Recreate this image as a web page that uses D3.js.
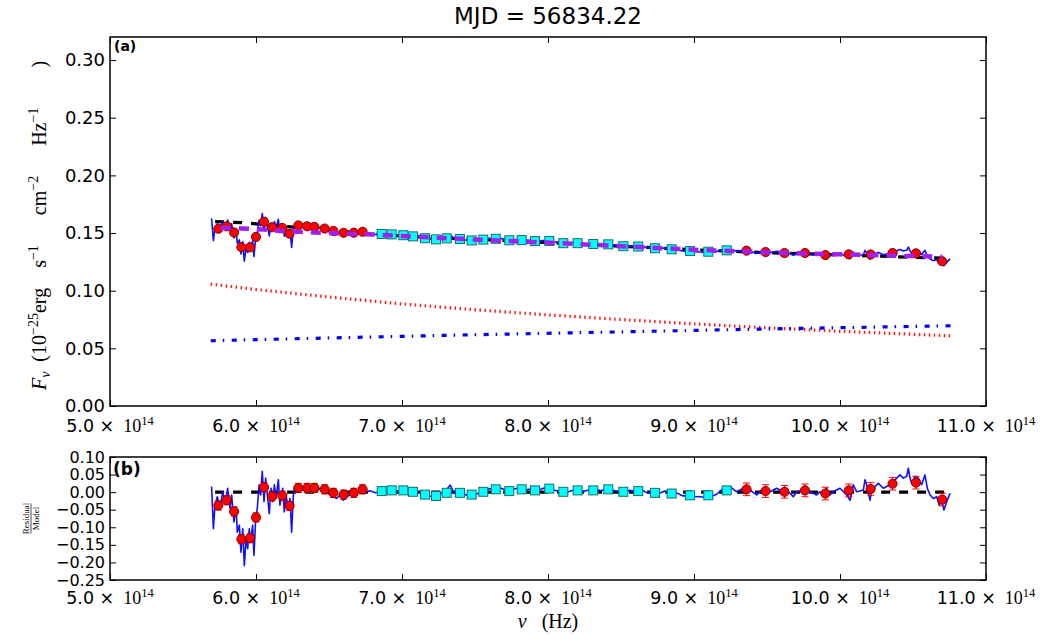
<!DOCTYPE html>
<html><head><meta charset="utf-8">
<script src="https://cdn.jsdelivr.net/npm/d3@7"></script>
<style>body{margin:0;background:#fff} svg{display:block} text{white-space:pre}</style>
</head><body><svg id="c" width="1047" height="635"></svg>
<script>
// ---------------- data (frequencies in units of 1e14 Hz) ----------------
const titleText = "MJD = 56834.22";
const xTicks = [5, 6, 7, 8, 9, 10, 11];
const xTickLabels = ["5.0", "6.0", "7.0", "8.0", "9.0", "10.0", "11.0"];
const xTickExp = "14";
const yTicksA = [0, 0.05, 0.10, 0.15, 0.20, 0.25, 0.30];
const yTicksB = [0.10, 0.05, 0.00, -0.05, -0.10, -0.15, -0.20, -0.25];

// observed spectrum (blue line): flux (panel a) and residual/model (panel b)
const specNu = [5.696,5.708,5.719,5.735,5.753,5.772,5.788,5.806,5.822,5.833,
 5.849,5.863,5.872,5.886,5.897,5.909,5.920,5.932,5.943,5.954,
 5.963,5.977,5.986,5.998,6.009,6.021,6.032,6.043,6.055,6.066,
 6.080,6.091,6.103,6.114,6.126,6.137,6.153,6.164,6.183,6.194,
 6.205,6.221,6.233,6.244,6.256,6.267,6.279,6.301,6.324,6.347,
 6.370,6.393,6.416,6.438,6.461,6.484,6.507,6.530,6.553,6.575,
 6.598,6.621,6.644,6.667,6.689,6.712,6.735,6.758,
 6.78,6.82,6.86,6.90,6.94,6.98,7.02,7.06,7.10,7.14,
 7.18,7.22,7.26,7.30,7.33,7.36,7.40,7.44,7.48,7.52,
 7.56,7.60,7.64,7.68,7.72,7.76,7.80,7.84,7.88,7.92,
 7.96,8.00,8.04,8.08,8.12,8.16,8.20,8.24,8.28,8.32,
 8.36,8.40,8.44,8.48,8.52,8.56,8.60,8.64,8.68,8.72,
 8.76,8.80,8.84,8.88,8.92,8.96,
 9.041,9.098,9.155,9.201,9.247,9.292,9.338,9.384,9.429,9.452,
 9.475,9.521,9.566,9.612,9.658,9.680,9.703,9.749,9.795,9.840,
 9.863,9.886,9.909,9.931,9.954,9.977,10.000,10.023,10.046,10.069,
 10.091,10.114,10.137,10.160,10.171,10.183,10.206,10.217,10.240,10.263,
 10.297,10.320,10.343,10.366,10.388,10.411,10.434,10.457,10.468,10.480,
 10.491,10.514,10.537,10.559,10.582,10.598,10.617,10.639,10.662,10.680,
 10.696,10.712,10.731,10.754];
const specFlux = [.1626,.1434,.1541,.1579,.1524,.1598,.1545,.1613,.1521,.1581,
 .1458,.1525,.1410,.1441,.1318,.1424,.1256,.1376,.1331,.1420,
 .1359,.1433,.1296,.1462,.1506,.1611,.1564,.1669,.1532,.1636,
 .1544,.1475,.1587,.1527,.1600,.1538,.1619,.1504,.1577,.1472,
 .1546,.1484,.1526,.1376,.1539,.1575,.1558,.1578,.1552,.1566,
 .1555,.1568,.1535,.1548,.1537,.1526,.1511,.1501,.1491,.1504,
 .1478,.1491,.1496,.1523,.1498,.1510,.1515,.1497,
 .1501,.1488,.1497,.1484,.1492,.1480,.1484,.1468,.1473,.1455,
 .1449,.1442,.1451,.1463,.1484,.1448,.1452,.1437,.1432,.1438,
 .1448,.1454,.1447,.1452,.1440,.1442,.1446,.1436,.1438,.1427,
 .1434,.1438,.1424,.1416,.1408,.1414,.1416,.1406,.1408,.1412,
 .1401,.1405,.1398,.1390,.1385,.1389,.1383,.1385,.1372,.1373,
 .1364,.1371,.1356,.1359,.1345,.1341,
 .1335,.1328,.1339,.1359,.1363,.1340,.1352,.1343,.1322,.1333,
 .1346,.1330,.1342,.1326,.1320,.1306,.1323,.1328,.1319,.1305,
 .1316,.1298,.1328,.1302,.1313,.1319,.1324,.1310,.1298,.1277,
 .1333,.1306,.1309,.1312,.1349,.1330,.1272,.1315,.1321,.1331,
 .1312,.1318,.1323,.1334,.1346,.1357,.1345,.1350,.1379,.1343,
 .1322,.1347,.1341,.1315,.1350,.1300,.1275,.1261,.1267,.1236,
 .1253,.1216,.1246,.1276];
const specResid = [.016,-.104,-.037,-.013,-.046,.001,-.032,.011,-.046,-.008,
 -.085,-.042,-.114,-.094,-.171,-.104,-.209,-.133,-.161,-.104,
 -.142,-.094,-.180,-.075,-.046,.021,-.008,.059,-.027,.040,
 -.018,-.061,.011,-.027,.021,-.018,.035,-.037,.011,-.056,
 -.008,-.046,-.018,-.114,-.008,.016,.006,.021,.006,.016,
 .011,.021,.001,.011,.006,.001,-.008,-.013,-.018,-.008,
 -.023,-.013,-.008,.011,-.003,.006,.011,.001,
 .004,-.002,.006,0,.008,.002,.007,-.002,.003,-.008,
 -.010,-.014,-.006,.004,.020,-.004,.001,-.008,-.010,-.004,
 .004,.010,.006,.011,.004,.008,.012,.006,.009,.003,
 .010,.014,.006,.002,-.002,.004,.008,.002,.006,.010,
 .004,.009,.006,.002,0,.005,.002,.006,-.002,.001,
 -.004,.003,-.006,-.002,-.010,-.012,
 -.013,-.016,-.006,.011,.016,.001,.011,.006,-.008,.001,
 .011,.001,.011,.001,-.003,-.013,.001,.006,.001,-.008,
 .001,-.013,.011,-.008,.001,.006,.011,.001,-.008,-.023,
 .021,.001,.003,.006,.035,.021,-.023,.011,.016,.025,
 .011,.016,.021,.030,.040,.049,.040,.045,.068,.040,
 .025,.045,.040,.021,.049,.011,-.008,-.018,-.013,-.037,
 -.023,-.051,-.027,-.003];

// total model (black dashed)
const modelNu = [5.72,5.80,5.90,6.00,6.10,6.20,6.30,6.40,6.50,6.60,6.70,6.80,6.90,7.00,7.25,
 7.50,7.75,8.00,8.25,8.50,8.75,9.00,9.25,9.50,9.75,10.00,10.25,10.50,10.73];
const modelFlux = [.1599,.1595,.1590,.1580,.1570,.1558,.1546,.1535,.1524,.1513,.1502,.1493,.1484,.1475,.1460,
 .1445,.1432,.1418,.1402,.1386,.1370,.1355,.1342,.1330,.1320,.1310,.1300,.1290,.1281];
const modelResid = [0,0,0,0,0,0,0,0,0,0,0,0,0,0,0,0,0,0,0,0,0,0,0,0,0,0,0,0,0];

// binned model (purple dashed)
const binModelNu = [5.76,5.90,6.05,6.20,6.40,6.60,6.80,7.00,7.50,8.00,8.50,9.00,9.50,10.00,10.50,10.70];
const binModelFlux = [.1545,.1540,.1530,.1515,.1505,.1495,.1488,.1474,.1443,.1417,.1386,.1355,.1332,.1315,.1300,.1295];

// disk component (red dotted) and second component (blue dash-dot)
const diskNu = [5.69,6.0,6.5,7.0,7.5,8.0,8.5,9.0,9.5,10.0,10.5,10.77];
const diskFlux = [.1057,.1010,.0945,.0885,.0835,.0790,.0750,.0712,.0678,.0648,.0622,.0607];
const compNu = [5.69,6.5,7.5,8.5,9.5,10.77];
const compFlux = [.0566,.0590,.0618,.0643,.0668,.0696];

// photometric points: red circles
const circNu = [5.742,5.80,5.85,5.90,5.96,6.00,6.055,6.11,6.18,6.23,6.29,6.35,6.40,6.47,6.53,6.60,6.67,6.73,
 9.36,9.49,9.62,9.76,9.90,10.06,10.21,10.36,10.52,10.70];
const circFlux = [.1537,.1558,.1505,.1377,.1376,.1466,.1597,.1550,.1544,.1494,.1566,.1558,.1553,.1539,.1518,.1502,.1503,.1511,
 .1347,.1335,.1326,.1327,.1309,.1315,.1314,.1327,.1324,.1255];
const circFluxErr = [.002,.002,.002,.002,.002,.002,.002,.002,.002,.002,.002,.002,.002,.002,.002,.002,.002,.002,
 .0024,.0024,.0024,.0024,.0024,.0024,.0024,.0024,.0024,.0024];
const circResid = [-.038,-.023,-.055,-.134,-.131,-.072,.014,-.012,-.010,-.039,.012,.012,.012,.008,-.002,-.007,-.002,.008,
 .008,.003,.001,.005,-.004,.005,.009,.024,.027,-.021];
const circResidErr = [.013,.013,.013,.013,.013,.013,.013,.013,.013,.013,.013,.013,.013,.013,.013,.013,.013,.013,
 .018,.018,.018,.018,.018,.018,.018,.018,.018,.018];

// cyan squares
const sqNu = [6.861,6.929,7.009,7.075,7.158,7.233,7.306,7.397,7.477,7.557,7.642,7.735,7.820,7.911,8.009,
 8.105,8.203,8.310,8.413,8.516,8.618,8.733,8.847,8.973,9.098,9.224];
const sqFlux = [.1492,.1488,.1481,.1471,.1455,.1445,.1454,.1448,.1436,.1443,.1450,.1437,.1439,.1430,.1431,
 .1412,.1412,.1405,.1402,.1386,.1383,.1368,.1359,.1344,.1338,.1350];
const sqFluxErr = [.0015,.0015,.0015,.0015,.0015,.0015,.0015,.0015,.0015,.0015,.0015,.0015,.0015,.0015,.0015,
 .0015,.0015,.0015,.0015,.0015,.0015,.0015,.0015,.0015,.0015,.0015];
const sqResid = [.003,.005,.005,.001,-.007,-.011,-.002,-.002,-.007,.001,.008,.003,.008,.005,.010,
 .001,.005,.005,.008,.001,.003,-.002,-.004,-.009,-.009,.005];
const sqResidErr = [.010,.010,.010,.010,.010,.010,.010,.010,.010,.010,.010,.010,.010,.010,.010,
 .010,.010,.010,.010,.010,.010,.010,.010,.010,.010,.010];

// ---------------- drawing ----------------
const svg = d3.select("#c");
const L = 110, R = 986;
const aTop = 37, aBot = 406, bTop = 457, bBot = 580;
const x = d3.scaleLinear().domain([5, 11]).range([L, R]);
const ya = d3.scaleLinear().domain([0, 0.32]).range([aBot, aTop]);
const yb = d3.scaleLinear().domain([-0.25, 0.10]).range([bBot, bTop]);

const SANS = "'DejaVu Sans', Verdana, sans-serif";
const SERIF = "'Liberation Serif', 'DejaVu Serif', serif";

svg.append("defs").append("clipPath").attr("id","clipA").append("rect")
  .attr("x",L).attr("y",aTop).attr("width",R-L).attr("height",aBot-aTop);
svg.select("defs").append("clipPath").attr("id","clipB").append("rect")
  .attr("x",L).attr("y",bTop).attr("width",R-L).attr("height",bBot-bTop);

function idx(n){ return d3.range(n); }

function drawPanel(y, top, bot, yTicks, clipId, which, tickFont, labOff) {
  const g = svg.append("g").attr("clip-path", `url(#${clipId})`);
  const line = (xs, ys) => d3.line().x(i => x(xs[i])).y(i => y(ys[i]))(idx(xs.length));

  if (which === "a") {
    g.append("path").attr("d", line(diskNu, diskFlux)).attr("fill","none")
      .attr("stroke","#ff1a1a").attr("stroke-width",3.2).attr("stroke-dasharray","1.5,3.5");
    g.append("path").attr("d", line(compNu, compFlux)).attr("fill","none")
      .attr("stroke","#0000ee").attr("stroke-width",3.2).attr("stroke-dasharray","5,7,1.5,7.5");
  }
  // model (black dashed)
  g.append("path").attr("d", line(modelNu, which === "a" ? modelFlux : modelResid)).attr("fill","none")
    .attr("stroke","#000").attr("stroke-width",3.2).attr("stroke-dasharray","9,9");
  // spectrum
  g.append("path").attr("d", line(specNu, which === "a" ? specFlux : specResid)).attr("fill","none")
    .attr("stroke","#1010ff").attr("stroke-width",1.6).attr("stroke-linejoin","round");

  // error bars + markers
  function points(nu, val, err, color, shape) {
    const eg = g.append("g").attr("stroke", color).attr("stroke-width", 1);
    idx(nu.length).forEach(i => {
      const cx = x(nu[i]), y1 = y(val[i] - err[i]), y2 = y(val[i] + err[i]);
      eg.append("line").attr("x1",cx).attr("x2",cx).attr("y1",y1).attr("y2",y2);
      eg.append("line").attr("x1",cx-3.5).attr("x2",cx+3.5).attr("y1",y1).attr("y2",y1);
      eg.append("line").attr("x1",cx-3.5).attr("x2",cx+3.5).attr("y1",y2).attr("y2",y2);
    });
    const mg = g.append("g");
    if (shape === "circle") {
      mg.selectAll("circle").data(idx(nu.length)).join("circle")
        .attr("cx", i => x(nu[i])).attr("cy", i => y(val[i])).attr("r", 4.6)
        .attr("fill", "#ff0000").attr("stroke", "#700000").attr("stroke-width", 0.9);
    } else {
      mg.selectAll("rect").data(idx(nu.length)).join("rect")
        .attr("x", i => x(nu[i]) - 4.5).attr("y", i => y(val[i]) - 4.5)
        .attr("width", 9).attr("height", 9)
        .attr("fill", "#00ffff").attr("stroke", "#1d6b6b").attr("stroke-width", 1);
    }
  }
  if (which === "a") {
    points(sqNu, sqFlux, sqFluxErr, "#00d8d8", "square");
    points(circNu, circFlux, circFluxErr, "#ff0000", "circle");
    g.append("path").attr("d", line(binModelNu, binModelFlux)).attr("fill","none")
      .attr("stroke","#a020f0").attr("stroke-width",4.5).attr("stroke-dasharray","10,8");
  } else {
    points(sqNu, sqResid, sqResidErr, "#00d8d8", "square");
    points(circNu, circResid, circResidErr, "#ff0000", "circle");
  }

  // axes via d3 axes (inward ticks on all four sides)
  const ax = (axis, tx, ty) => {
    const a = svg.append("g").attr("transform", `translate(${tx},${ty})`).call(axis);
    a.select(".domain").remove();
    a.selectAll(".tick line").attr("stroke","#000").attr("stroke-width",1);
    return a;
  };
  ax(d3.axisBottom(x).tickValues(xTicks).tickSizeInner(-6).tickSizeOuter(0).tickFormat(""), 0, bot);
  ax(d3.axisTop(x).tickValues(xTicks).tickSizeInner(-6).tickSizeOuter(0).tickFormat(""), 0, top);
  const left = ax(d3.axisLeft(y).tickValues(yTicks).tickSizeInner(-6).tickSizeOuter(0)
      .tickPadding(5).tickFormat(d3.format(".2f")), L, 0);
  left.selectAll("text").attr("font-family", SANS).attr("font-size", tickFont).attr("fill","#000");
  ax(d3.axisRight(y).tickValues(yTicks).tickSizeInner(-6).tickSizeOuter(0).tickFormat(""), R, 0);

  svg.append("rect").attr("x",L).attr("y",top).attr("width",R-L).attr("height",bot-top)
    .attr("fill","none").attr("stroke","#000").attr("stroke-width",1.5);

  // x tick labels: "5.0 ×  10^14"
  const lab = svg.append("g");
  xTicks.forEach((v, i) => {
    const t = lab.append("text").attr("x", x(v)).attr("y", bot + labOff).attr("text-anchor","middle").attr("fill","#000");
    t.append("tspan").attr("font-family", SANS).attr("font-size", 17.5).text(xTickLabels[i] + " \u00d7");
    t.append("tspan").attr("font-family", SERIF).attr("font-size", 18).attr("dx", 9).text("10");
    t.append("tspan").attr("font-family", SERIF).attr("font-size", 12.5).attr("dy", -7).text(xTickExp);
  });
}

drawPanel(ya, aTop, aBot, yTicksA, "clipA", "a", 18, 26);
drawPanel(yb, bTop, bBot, yTicksB, "clipB", "b", 16, 24);

// panel tags
svg.append("text").attr("x", L + 4).attr("y", aTop + 14).attr("font-family", SANS)
  .attr("font-weight","bold").attr("font-size", 14).text("(a)");
svg.append("text").attr("x", L + 3).attr("y", bTop + 18).attr("font-family", SANS)
  .attr("font-weight","bold").attr("font-size", 17).text("(b)");

// title
svg.append("text").attr("x", (L + R) / 2).attr("y", 24).attr("text-anchor","middle")
  .attr("font-family", SANS).attr("font-size", 23).text(titleText);

// y label panel a
const yl = svg.append("text").attr("transform", `translate(46,${(aTop + aBot) / 2 + 4}) rotate(-90)`)
  .attr("text-anchor","middle").attr("font-family", SERIF).attr("font-size", 20);
yl.append("tspan").attr("font-style","italic").text("F");
yl.append("tspan").attr("font-style","italic").attr("font-size", 14).attr("dy", 4).text("\u03bd");
yl.append("tspan").attr("dy", -4).text("  (10");
yl.append("tspan").attr("font-size", 14).attr("dy", -8).text("\u221225");
yl.append("tspan").attr("dy", 8).text("erg    s");
yl.append("tspan").attr("font-size", 14).attr("dy", -8).text("\u22121");
yl.append("tspan").attr("dy", 8).text("      cm");
yl.append("tspan").attr("font-size", 14).attr("dy", -8).text("\u22122");
yl.append("tspan").attr("dy", 8).text("      Hz");
yl.append("tspan").attr("font-size", 14).attr("dy", -8).text("\u22121");
yl.append("tspan").attr("dy", 8).text("        )");

// y label panel b : Residual / Model
const yb0 = (bTop + bBot) / 2;
const fr = svg.append("g").attr("transform", `translate(31,${yb0}) rotate(-90)`);
fr.append("text").attr("x", 0).attr("y", -2).attr("text-anchor","middle")
  .attr("font-family", SERIF).attr("font-size", 9).text("Residual");
fr.append("line").attr("x1", -15).attr("x2", 15).attr("y1", 0).attr("y2", 0).attr("stroke","#000").attr("stroke-width",0.7);
fr.append("text").attr("x", 0).attr("y", 8).attr("text-anchor","middle")
  .attr("font-family", SERIF).attr("font-size", 9).text("Model");

// x label
const xl = svg.append("text").attr("x", (L + R) / 2).attr("y", 628).attr("text-anchor","middle")
  .attr("font-family", SERIF).attr("font-size", 20);
xl.append("tspan").attr("font-style","italic").text("\u03bd");
xl.append("tspan").text("   (Hz)");
</script></body></html>
